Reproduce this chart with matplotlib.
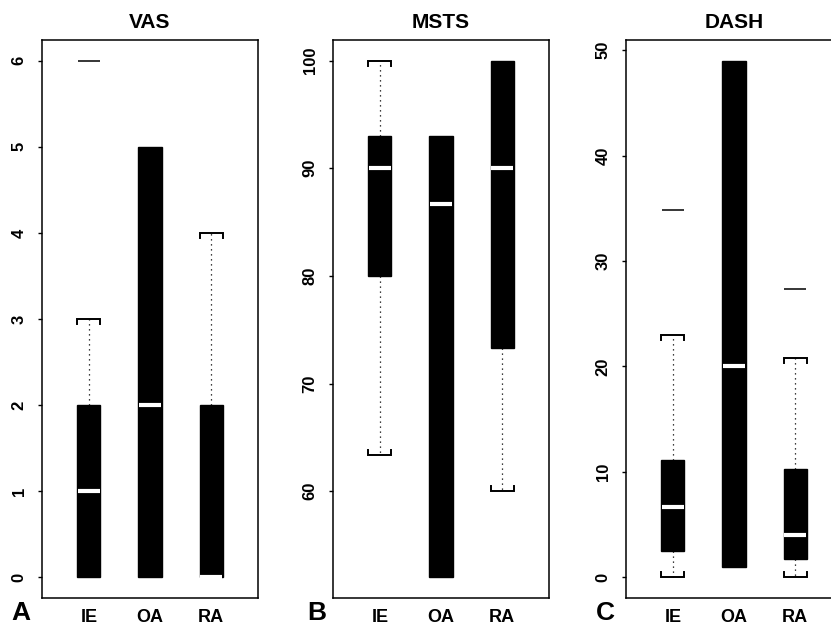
import numpy as np
import matplotlib
matplotlib.use('Agg')
import matplotlib.pyplot as plt

plt.rcParams['font.family'] = ['Liberation Sans', 'DejaVu Sans']
plt.rcParams['font.weight'] = 'bold'

groups = ['IE', 'OA', 'RA']
titles = ['VAS', 'MSTS', 'DASH']
letters = ['A', 'B', 'C']

# five-number summaries: low whisker, Q1, median, Q3, high whisker
vas_low = [0, 0, 0]
vas_q1 = [0, 0, 0]
vas_med = [1, 2, 0]
vas_q3 = [2, 5, 2]
vas_high = [3, 5, 4]
vas_out = [[6], [], []]

msts_low = [63.4, 52, 60]
msts_q1 = [80, 52, 73.3]
msts_med = [90, 86.7, 90]
msts_q3 = [93, 93, 100]
msts_high = [100, 93, 100]
msts_out = [[], [], []]

dash_low = [0, 1, 0]
dash_q1 = [2.5, 1, 1.7]
dash_med = [6.7, 20, 4.0]
dash_q3 = [11.1, 49, 10.3]
dash_high = [23, 49, 20.8]
dash_out = [[34.8], [], [27.3]]

yticks = [np.arange(0, 7, 1), np.arange(60, 101, 10), np.arange(0, 51, 10)]

panels = [
    (vas_low, vas_q1, vas_med, vas_q3, vas_high, vas_out),
    (msts_low, msts_q1, msts_med, msts_q3, msts_high, msts_out),
    (dash_low, dash_q1, dash_med, dash_q3, dash_high, dash_out),
]

W, H = 831, 628
fig = plt.figure(figsize=(W / 100, H / 100), dpi=100)

ax_left = [42, 333, 626]     # px
letter_x = [11, 307, 596]
ax_w, ax_top, ax_bot = 216, 40, 598
pos = np.arange(1, 4)
bw = 0.377

for i, (lo, q1, med, q3, hi, out) in enumerate(panels):
    ax = fig.add_axes([ax_left[i] / W, (H - ax_bot) / H, ax_w / W, (ax_bot - ax_top) / H])
    stats = []
    for k in range(3):
        stats.append(dict(whislo=lo[k], q1=q1[k], med=med[k], q3=q3[k],
                          whishi=hi[k], fliers=out[k], label=groups[k]))
    arts = ax.bxp(stats, positions=pos, widths=bw, patch_artist=True, showcaps=False,
                  boxprops=dict(facecolor='black', edgecolor='black', linewidth=1),
                  medianprops=dict(color='white', linewidth=3.0, solid_capstyle='butt'),
                  whiskerprops=dict(color='black', linewidth=0.9, linestyle=(0, (1, 3))),
                  flierprops=dict(marker='_', markersize=bw * 61 * 0.72, markeredgewidth=1.1,
                                  color='black', markeredgecolor='black'))
    # pull the white median bars a little inside the box
    for k, ln in enumerate(arts['medians']):
        ln.set_xdata([pos[k] - bw / 2 + 0.015, pos[k] + bw / 2 - 0.015])
    allv = lo + hi + sum(out, [])
    vmin, vmax = min(allv), max(allv)
    pad = 0.04 * (vmax - vmin)
    ax.set_ylim(vmin - pad, vmax + pad)
    ax.set_xlim(0.23, 3.77)
    d = 0.009 * (vmax - vmin + 2 * pad)
    # bracket-shaped staples pointing toward the box
    for k in range(3):
        x0, x1 = pos[k] - bw / 2, pos[k] + bw / 2
        for y, s, edge in ((hi[k], -1, q3[k]), (lo[k], 1, q1[k])):
            if y == edge:
                continue
            ax.plot([x0, x0, x1, x1], [y + s * d, y, y, y + s * d],
                    color='black', lw=1.4, zorder=1.5, solid_joinstyle='miter')
    ax.set_yticks(yticks[i])
    ax.set_yticklabels([str(v) for v in yticks[i]], rotation=90, va='center',
                       fontsize=12, fontweight='bold')
    ax.tick_params(axis='y', length=3, width=1, pad=8)
    ax.tick_params(axis='x', length=0, pad=8, labelsize=13)
    ax.set_xticks(pos)
    ax.set_xticklabels(groups, fontweight='bold')
    ax.set_title(titles[i], fontsize=15, fontweight='bold', pad=9)
    for sp in ax.spines.values():
        sp.set_linewidth(1.1)
    fig.text(letter_x[i] / W, 3 / H, letters[i], fontsize=19, fontweight='bold',
             ha='left', va='bottom')

fig.savefig('out.png', dpi=100)
